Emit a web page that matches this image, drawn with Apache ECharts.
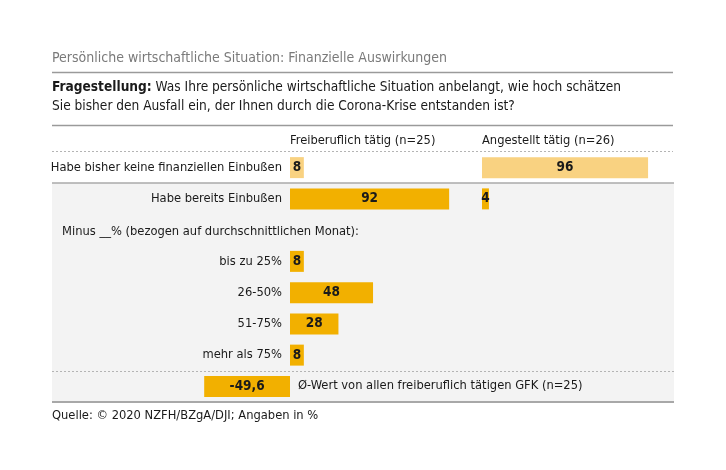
<!DOCTYPE html>
<html>
<head>
<meta charset="utf-8">
<script src="https://cdn.jsdelivr.net/npm/echarts@6/dist/echarts.min.js"></script>
<style>
html,body{margin:0;padding:0;background:#fff;}
#c{width:726px;height:470px;}
</style>
</head>
<body>
<div id="c"></div>
<script>
// ---- data ----
var chartTitle = 'Persönliche wirtschaftliche Situation: Finanzielle Auswirkungen';
var questionLabel = 'Fragestellung:';
var questionLine1 = ' Was Ihre persönliche wirtschaftliche Situation anbelangt, wie hoch schätzen';
var questionLine2 = 'Sie bisher den Ausfall ein, der Ihnen durch die Corona-Krise entstanden ist?';
var groupNames = ['Freiberuflich tätig (n=25)', 'Angestellt tätig (n=26)'];
var categories = [
  'Habe bisher keine finanziellen Einbußen',
  'Habe bereits Einbußen',
  'Minus __% (bezogen auf durchschnittlichen Monat):',
  'bis zu 25%',
  '26-50%',
  '51-75%',
  'mehr als 75%',
  'Ø-Wert von allen freiberuflich tätigen GFK (n=25)'
];
var freiberuflich = [8, 92, null, 8, 48, 28, 8, -49.6];
var angestellt = [96, 4, null, null, null, null, null, null];
var sourceText = 'Quelle: © 2020 NZFH/BZgA/DJI; Angaben in %';

// ---- styling ----
var FONT = '"Liberation Sans Narrow", "DejaVu Sans Condensed", "Roboto Condensed", sans-serif';
var DARK = '#F2B000';
var LIGHT = '#F9D281';
var TXT = '#1a1a1a';
var FS = 12.8;

var sectionIdx = 2, avgIdx = 7;

function barColor(p) { return p.dataIndex === 0 ? LIGHT : DARK; }
function fmt(p) {
  var v = p.value;
  if (v == null || v === '-') return '';
  return String(v).replace('.', ',');
}
function toData(arr) { return arr.map(function (v) { return v == null ? '-' : v; }); }

var labelStyle = { show: true, position: 'inside', formatter: fmt, color: TXT, fontFamily: FONT, fontWeight: 'bold', fontSize: 13.5 };

var GRID_TOP = 152, GRID_H = 250;

var chart = echarts.init(document.getElementById('c'), null, { renderer: 'canvas' });
var option = {
  backgroundColor: '#ffffff',
  animation: false,
  textStyle: { fontFamily: FONT },
  grid: [
    { left: 117, width: 346, top: GRID_TOP, height: GRID_H, containLabel: false },
    { left: 482, width: 173, top: GRID_TOP, height: GRID_H, containLabel: false }
  ],
  xAxis: [
    { gridIndex: 0, type: 'value', min: -100, max: 100, show: false },
    { gridIndex: 1, type: 'value', min: 0, max: 100, show: false }
  ],
  yAxis: [
    {
      gridIndex: 0, type: 'category', inverse: true, data: categories,
      position: 'left', offset: -173,
      axisLine: { show: false, onZero: false }, axisTick: { show: false }, splitLine: { show: false },
      axisLabel: {
        margin: 8, color: TXT, fontFamily: FONT, fontSize: FS,
        formatter: function (v, i) { return (i === sectionIdx || i === avgIdx) ? '' : v; }
      }
    },
    {
      gridIndex: 1, type: 'category', inverse: true, data: categories, show: false
    }
  ],
  series: [
    {
      type: 'bar', xAxisIndex: 0, yAxisIndex: 0, data: toData(freiberuflich),
      barWidth: 21, itemStyle: { color: barColor }, label: labelStyle, z: 5
    },
    {
      type: 'bar', xAxisIndex: 1, yAxisIndex: 1, data: toData(angestellt),
      barWidth: 21, itemStyle: { color: barColor }, label: labelStyle, z: 5
    }
  ],
  graphic: [
    { type: 'rect', z: -10, shape: { x: 52, y: 183, width: 622, height: 219 }, style: { fill: '#F3F3F3' } },
    { type: 'text', left: 52, top: 51, style: { text: chartTitle, fill: '#7a7a7a', font: '14px ' + FONT } },
    { type: 'line', shape: { x1: 52, y1: 72.5, x2: 673, y2: 72.5 }, style: { stroke: '#9a9a9a', lineWidth: 1.5 } },
    { type: 'text', left: 52, top: 80, style: {
        text: '{b|' + questionLabel + '}{n|' + questionLine1 + '}\n{n|' + questionLine2 + '}',
        rich: {
          b: { font: 'bold 13.6px ' + FONT, fill: TXT, lineHeight: 19 },
          n: { font: '13.6px ' + FONT, fill: TXT, lineHeight: 19 }
        }
    } },
    { type: 'line', shape: { x1: 52, y1: 125.5, x2: 673, y2: 125.5 }, style: { stroke: '#9a9a9a', lineWidth: 1.5 } },
    { type: 'text', left: 290, top: 134, style: { text: groupNames[0], fill: TXT, font: FS + 'px ' + FONT } },
    { type: 'text', left: 482, top: 134, style: { text: groupNames[1], fill: TXT, font: FS + 'px ' + FONT } },
    { type: 'line', shape: { x1: 52, y1: 151.5, x2: 673, y2: 151.5 }, style: { stroke: '#b4b4b4', lineWidth: 1, lineDash: [2, 2] } },
    { type: 'line', z: -5, shape: { x1: 52, y1: 183, x2: 674, y2: 183 }, style: { stroke: '#aaaaaa', lineWidth: 1.5 } },
    { type: 'text', left: 62, top: 225, style: { text: categories[sectionIdx], fill: TXT, font: FS + 'px ' + FONT } },
    { type: 'line', shape: { x1: 52, y1: 371.5, x2: 674, y2: 371.5 }, style: { stroke: '#b4b4b4', lineWidth: 1, lineDash: [2, 2] } },
    { type: 'text', left: 298, top: 379, style: { text: categories[avgIdx], fill: TXT, font: FS + 'px ' + FONT } },
    { type: 'line', shape: { x1: 52, y1: 402, x2: 674, y2: 402 }, style: { stroke: '#a8a8a8', lineWidth: 2 } },
    { type: 'text', left: 52, top: 409, style: { text: sourceText, fill: TXT, font: FS + 'px ' + FONT } }
  ]
};
chart.setOption(option);
</script>
</body>
</html>
